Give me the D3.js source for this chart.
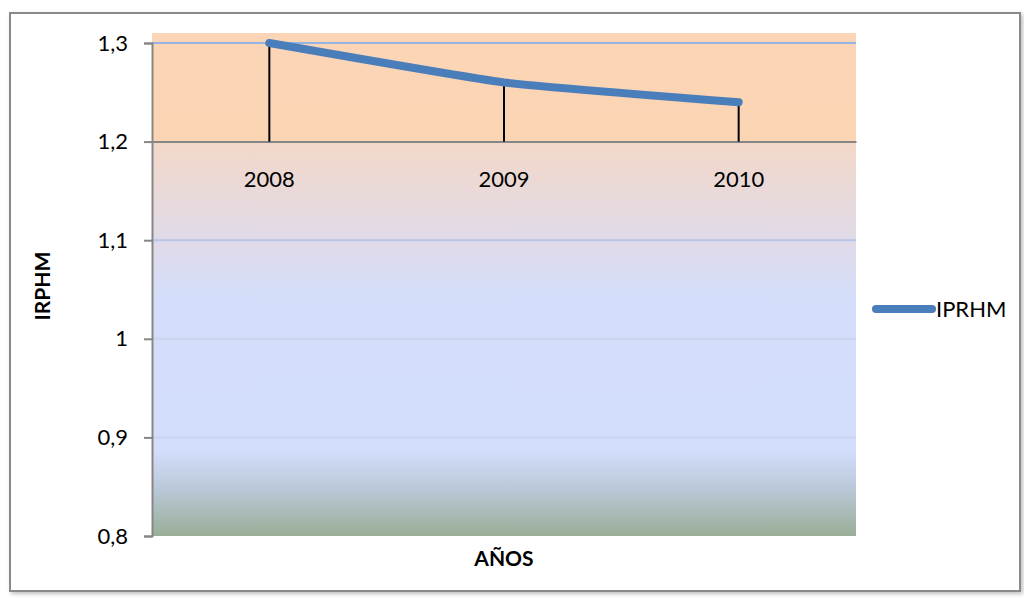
<!DOCTYPE html>
<html>
<head>
<meta charset="utf-8">
<script src="https://cdn.jsdelivr.net/npm/d3@7"></script>
<style>
  body { margin: 0; background: #fff; }
  svg { display: block; font-family: Lato, "Open Sans", sans-serif; }
</style>
</head>
<body>
<svg id="chart"></svg>
<script>
// data
var years = ["2008", "2009", "2010"]
var iprhm = [1.30, 1.26, 1.24]
var yTicks = [0.8, 0.9, 1.0, 1.1, 1.2, 1.3]
var seriesName = "IPRHM"

var width = 1024
var height = 598

var plotLeft = 152, plotRight = 856, plotTop = 33, plotBottom = 536

var svg = d3.select("#chart")
  .attr("width", width)
  .attr("height", height)

var x = d3.scaleBand()
  .domain(years)
  .range([plotLeft, plotRight])

var y = d3.scaleLinear()
  .domain([0.8, 1.3])
  .range([plotBottom, 43])

var fmt = function(d) { return d3.format(".1~f")(d).replace(".", ",") }

// background gradient of the plot area
var defs = svg.append("defs")
var grad = defs.append("linearGradient")
  .attr("id", "bg")
  .attr("x1", 0).attr("y1", 0).attr("x2", 0).attr("y2", 1)
var stops = [
  [0, "#fbd5b5"], [0.214, "#fbd4b4"], [0.216, "#f3d8c8"],
  [0.41, "#e0dae8"], [0.53, "#d4defa"], [0.83, "#d3defc"],
  [0.9, "#bccadc"], [1, "#99ae97"]
]
grad.selectAll("stop")
  .data(stops)
  .enter()
  .append("stop")
  .attr("offset", function(d) { return d[0] })
  .attr("stop-color", function(d) { return d[1] })

var shadow = defs.append("filter").attr("id", "shadow")
  .attr("x", "-5%").attr("y", "-5%").attr("width", "110%").attr("height", "110%")
shadow.append("feDropShadow")
  .attr("dx", 2).attr("dy", 2).attr("stdDeviation", 2)
  .attr("flood-color", "#000").attr("flood-opacity", 0.25)

// chart frame
svg.append("rect")
  .attr("x", 10).attr("y", 13)
  .attr("width", 1010).attr("height", 578)
  .attr("fill", "#fff")
  .attr("stroke", "#8a8a8a")
  .attr("stroke-width", 2)
  .attr("filter", "url(#shadow)")

svg.append("rect")
  .attr("x", plotLeft).attr("y", plotTop)
  .attr("width", plotRight - plotLeft)
  .attr("height", plotBottom - plotTop)
  .attr("fill", "url(#bg)")

// gridlines
svg.append("g")
  .selectAll("line")
  .data(yTicks.filter(function(d) { return d != 1.2 && d != 0.8 }))
  .enter()
  .append("line")
  .attr("x1", plotLeft).attr("x2", plotRight)
  .attr("y1", function(d) { return y(d) })
  .attr("y2", function(d) { return y(d) })
  .attr("stroke", function(d) { return d > 1.05 ? "#95b3e3" : "#c3cbdc" })
  .attr("stroke-opacity", function(d) { return d > 1.15 ? 1 : (d > 1.05 ? 0.55 : 0.5) })
  .attr("stroke-width", 2)

// y axis
var yAxis = svg.append("g")
  .attr("transform", "translate(" + plotLeft + ",0)")
  .call(d3.axisLeft(y).tickValues(yTicks).tickFormat(fmt).tickSize(8).tickPadding(16))
yAxis.select(".domain").attr("stroke", "#868686").attr("stroke-width", 2)
yAxis.selectAll(".tick line").attr("stroke", "#868686").attr("stroke-width", 2)
yAxis.selectAll(".tick text")
  .attr("fill", "#000")
  .style("font-size", "22px")
  .style("font-family", "Lato, sans-serif")

// category axis crosses at 1,2
var xAxis = svg.append("g")
  .attr("transform", "translate(0," + y(1.2) + ")")
  .call(d3.axisBottom(x).tickSize(0).tickPadding(30))
xAxis.select(".domain").attr("stroke", "#868686").attr("stroke-width", 2)
xAxis.selectAll(".tick text")
  .attr("fill", "#000")
  .style("font-size", "22px")
  .style("font-family", "Lato, sans-serif")

// drop lines
svg.append("g")
  .selectAll("line")
  .data(years)
  .enter()
  .append("line")
  .attr("x1", function(d) { return x(d) + x.bandwidth() / 2 })
  .attr("x2", function(d) { return x(d) + x.bandwidth() / 2 })
  .attr("y1", function(d, i) { return y(iprhm[i]) })
  .attr("y2", y(1.2))
  .attr("stroke", "#000")
  .attr("stroke-width", 2)

// the series line, only lightly smoothed
var line = d3.line()
  .x(function(d, i) { return x(years[i]) + x.bandwidth() / 2 })
  .y(function(d) { return y(d) })
  .curve(d3.curveCardinal.tension(0.6))

svg.append("path")
  .datum(iprhm)
  .attr("d", line)
  .attr("fill", "none")
  .attr("stroke", "#4a7ebb")
  .attr("stroke-width", 8)
  .attr("stroke-linecap", "round")
  .attr("stroke-linejoin", "round")

// axis titles
svg.append("text")
  .attr("transform", "translate(50,286) rotate(-90)")
  .attr("text-anchor", "middle")
  .style("font-size", "21px")
  .style("font-weight", "bold")
  .text("IRPHM")

svg.append("text")
  .attr("x", 504).attr("y", 566)
  .attr("text-anchor", "middle")
  .style("font-size", "21px")
  .style("font-weight", "bold")
  .text("AÑOS")

// legend
var legend = svg.append("g").attr("transform", "translate(876,309)")
legend.append("line")
  .attr("x1", 0).attr("x2", 56)
  .attr("stroke", "#4a7ebb")
  .attr("stroke-width", 8)
  .attr("stroke-linecap", "round")
legend.append("text")
  .attr("x", 60).attr("dy", "0.36em")
  .style("font-size", "22px")
  .text(seriesName)
</script>
</body>
</html>
